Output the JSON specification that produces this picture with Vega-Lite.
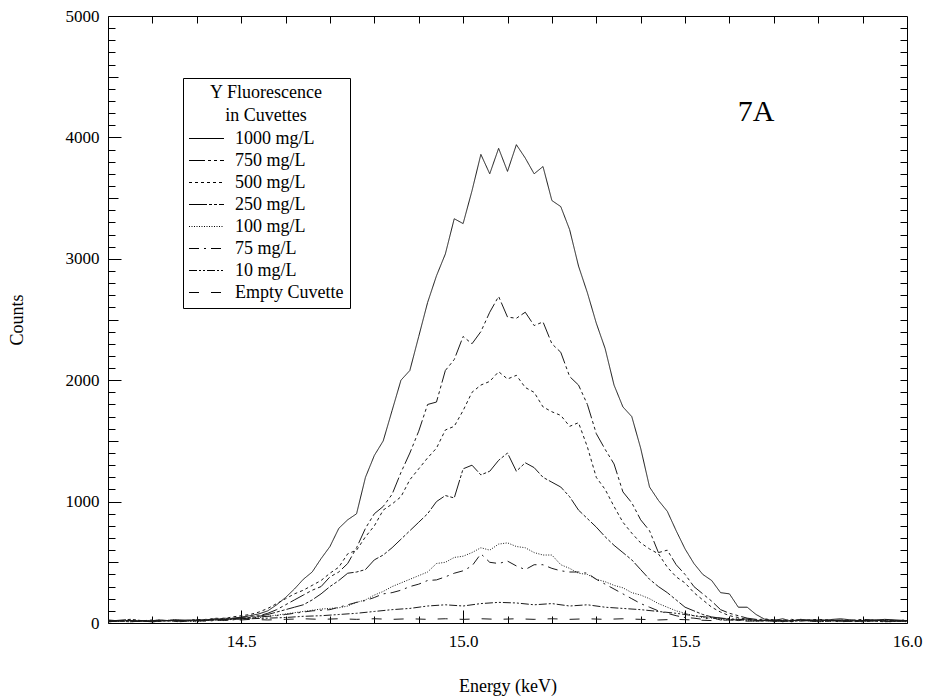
{
"$schema":"https://vega.github.io/schema/vega-lite/v6.json",
"width":799,"height":607,
"autosize":{"type":"none"},
"padding":{"left":108,"top":16,"right":18,"bottom":75},
"background":"white",
"config":{"view":{"stroke":"black","strokeWidth":1},"font":"Liberation Serif","axis":{"labelFont":"Liberation Serif","titleFont":"Liberation Serif","tickColor":"black","domainColor":"black","labelColor":"black","titleColor":"black","grid":false,"titleFontWeight":"normal","domain":false,"tickWidth":1,"ticks":true}},
"resolve":{"axis":{"x":"independent","y":"independent"}},
"layer":[
{"data":{"values":[
{"s":"1000","e":14.2,"c":15},{"s":"1000","e":14.25,"c":20},{"s":"1000","e":14.3,"c":10},{"s":"1000","e":14.35,"c":25},{"s":"1000","e":14.4,"c":20},{"s":"1000","e":14.42,"c":30},{"s":"1000","e":14.44,"c":25},{"s":"1000","e":14.46,"c":40},{"s":"1000","e":14.48,"c":35},{"s":"1000","e":14.5,"c":50},{"s":"1000","e":14.52,"c":60},{"s":"1000","e":14.54,"c":75},{"s":"1000","e":14.56,"c":100},{"s":"1000","e":14.58,"c":150},{"s":"1000","e":14.6,"c":210},{"s":"1000","e":14.62,"c":280},{"s":"1000","e":14.64,"c":360},{"s":"1000","e":14.66,"c":420},{"s":"1000","e":14.68,"c":530},{"s":"1000","e":14.7,"c":630},{"s":"1000","e":14.72,"c":780},{"s":"1000","e":14.74,"c":850},{"s":"1000","e":14.76,"c":900},{"s":"1000","e":14.78,"c":1200},{"s":"1000","e":14.8,"c":1380},{"s":"1000","e":14.82,"c":1500},{"s":"1000","e":14.84,"c":1750},{"s":"1000","e":14.86,"c":2000},{"s":"1000","e":14.88,"c":2080},{"s":"1000","e":14.9,"c":2360},{"s":"1000","e":14.92,"c":2640},{"s":"1000","e":14.94,"c":2860},{"s":"1000","e":14.96,"c":3040},{"s":"1000","e":14.98,"c":3330},{"s":"1000","e":15.0,"c":3290},{"s":"1000","e":15.02,"c":3560},{"s":"1000","e":15.04,"c":3860},{"s":"1000","e":15.06,"c":3700},{"s":"1000","e":15.08,"c":3910},{"s":"1000","e":15.1,"c":3720},{"s":"1000","e":15.12,"c":3940},{"s":"1000","e":15.14,"c":3830},{"s":"1000","e":15.16,"c":3700},{"s":"1000","e":15.18,"c":3760},{"s":"1000","e":15.2,"c":3480},{"s":"1000","e":15.22,"c":3430},{"s":"1000","e":15.24,"c":3240},{"s":"1000","e":15.26,"c":2940},{"s":"1000","e":15.28,"c":2720},{"s":"1000","e":15.3,"c":2470},{"s":"1000","e":15.32,"c":2260},{"s":"1000","e":15.34,"c":1960},{"s":"1000","e":15.36,"c":1780},{"s":"1000","e":15.38,"c":1700},{"s":"1000","e":15.4,"c":1440},{"s":"1000","e":15.42,"c":1120},{"s":"1000","e":15.44,"c":1010},{"s":"1000","e":15.46,"c":920},{"s":"1000","e":15.48,"c":760},{"s":"1000","e":15.5,"c":610},{"s":"1000","e":15.52,"c":490},{"s":"1000","e":15.54,"c":400},{"s":"1000","e":15.56,"c":350},{"s":"1000","e":15.58,"c":250},{"s":"1000","e":15.6,"c":240},{"s":"1000","e":15.62,"c":130},{"s":"1000","e":15.64,"c":130},{"s":"1000","e":15.66,"c":70},{"s":"1000","e":15.68,"c":30},{"s":"1000","e":15.7,"c":20},{"s":"1000","e":15.72,"c":35},{"s":"1000","e":15.74,"c":15},{"s":"1000","e":15.76,"c":30},{"s":"1000","e":15.8,"c":20},{"s":"1000","e":15.85,"c":35},{"s":"1000","e":15.9,"c":15},{"s":"1000","e":15.95,"c":30},{"s":"1000","e":16.0,"c":20},
{"s":"750","e":14.2,"c":10},{"s":"750","e":14.25,"c":25},{"s":"750","e":14.3,"c":15},{"s":"750","e":14.35,"c":20},{"s":"750","e":14.4,"c":25},{"s":"750","e":14.42,"c":20},{"s":"750","e":14.44,"c":35},{"s":"750","e":14.46,"c":30},{"s":"750","e":14.48,"c":40},{"s":"750","e":14.5,"c":45},{"s":"750","e":14.52,"c":55},{"s":"750","e":14.54,"c":60},{"s":"750","e":14.56,"c":80},{"s":"750","e":14.58,"c":110},{"s":"750","e":14.6,"c":150},{"s":"750","e":14.62,"c":190},{"s":"750","e":14.64,"c":230},{"s":"750","e":14.66,"c":270},{"s":"750","e":14.68,"c":300},{"s":"750","e":14.7,"c":380},{"s":"750","e":14.72,"c":420},{"s":"750","e":14.74,"c":490},{"s":"750","e":14.76,"c":620},{"s":"750","e":14.78,"c":780},{"s":"750","e":14.8,"c":900},{"s":"750","e":14.82,"c":960},{"s":"750","e":14.84,"c":1060},{"s":"750","e":14.86,"c":1240},{"s":"750","e":14.88,"c":1400},{"s":"750","e":14.9,"c":1580},{"s":"750","e":14.92,"c":1800},{"s":"750","e":14.94,"c":1820},{"s":"750","e":14.96,"c":2080},{"s":"750","e":14.98,"c":2170},{"s":"750","e":15.0,"c":2360},{"s":"750","e":15.02,"c":2300},{"s":"750","e":15.04,"c":2400},{"s":"750","e":15.06,"c":2560},{"s":"750","e":15.08,"c":2690},{"s":"750","e":15.1,"c":2520},{"s":"750","e":15.12,"c":2510},{"s":"750","e":15.14,"c":2560},{"s":"750","e":15.16,"c":2450},{"s":"750","e":15.18,"c":2480},{"s":"750","e":15.2,"c":2300},{"s":"750","e":15.22,"c":2230},{"s":"750","e":15.24,"c":2030},{"s":"750","e":15.26,"c":1960},{"s":"750","e":15.28,"c":1800},{"s":"750","e":15.3,"c":1560},{"s":"750","e":15.32,"c":1430},{"s":"750","e":15.34,"c":1310},{"s":"750","e":15.36,"c":1080},{"s":"750","e":15.38,"c":990},{"s":"750","e":15.4,"c":850},{"s":"750","e":15.42,"c":760},{"s":"750","e":15.44,"c":580},{"s":"750","e":15.46,"c":600},{"s":"750","e":15.48,"c":480},{"s":"750","e":15.5,"c":400},{"s":"750","e":15.52,"c":300},{"s":"750","e":15.54,"c":240},{"s":"750","e":15.56,"c":180},{"s":"750","e":15.58,"c":110},{"s":"750","e":15.6,"c":80},{"s":"750","e":15.62,"c":60},{"s":"750","e":15.64,"c":40},{"s":"750","e":15.66,"c":30},{"s":"750","e":15.68,"c":20},{"s":"750","e":15.7,"c":25},{"s":"750","e":15.72,"c":15},{"s":"750","e":15.74,"c":30},{"s":"750","e":15.76,"c":20},{"s":"750","e":15.8,"c":25},{"s":"750","e":15.85,"c":15},{"s":"750","e":15.9,"c":30},{"s":"750","e":15.95,"c":20},{"s":"750","e":16.0,"c":15},
{"s":"500","e":14.2,"c":20},{"s":"500","e":14.25,"c":10},{"s":"500","e":14.3,"c":25},{"s":"500","e":14.35,"c":15},{"s":"500","e":14.4,"c":30},{"s":"500","e":14.42,"c":25},{"s":"500","e":14.44,"c":40},{"s":"500","e":14.46,"c":35},{"s":"500","e":14.48,"c":50},{"s":"500","e":14.5,"c":60},{"s":"500","e":14.52,"c":70},{"s":"500","e":14.54,"c":90},{"s":"500","e":14.56,"c":120},{"s":"500","e":14.58,"c":160},{"s":"500","e":14.6,"c":200},{"s":"500","e":14.62,"c":240},{"s":"500","e":14.64,"c":270},{"s":"500","e":14.66,"c":310},{"s":"500","e":14.68,"c":350},{"s":"500","e":14.7,"c":410},{"s":"500","e":14.72,"c":460},{"s":"500","e":14.74,"c":570},{"s":"500","e":14.76,"c":600},{"s":"500","e":14.78,"c":710},{"s":"500","e":14.8,"c":800},{"s":"500","e":14.82,"c":930},{"s":"500","e":14.84,"c":980},{"s":"500","e":14.86,"c":1040},{"s":"500","e":14.88,"c":1180},{"s":"500","e":14.9,"c":1270},{"s":"500","e":14.92,"c":1360},{"s":"500","e":14.94,"c":1440},{"s":"500","e":14.96,"c":1590},{"s":"500","e":14.98,"c":1620},{"s":"500","e":15.0,"c":1750},{"s":"500","e":15.02,"c":1900},{"s":"500","e":15.04,"c":1960},{"s":"500","e":15.06,"c":1990},{"s":"500","e":15.08,"c":2070},{"s":"500","e":15.1,"c":2010},{"s":"500","e":15.12,"c":2040},{"s":"500","e":15.14,"c":1940},{"s":"500","e":15.16,"c":1900},{"s":"500","e":15.18,"c":1780},{"s":"500","e":15.2,"c":1740},{"s":"500","e":15.22,"c":1710},{"s":"500","e":15.24,"c":1620},{"s":"500","e":15.26,"c":1650},{"s":"500","e":15.28,"c":1450},{"s":"500","e":15.3,"c":1200},{"s":"500","e":15.32,"c":1100},{"s":"500","e":15.34,"c":960},{"s":"500","e":15.36,"c":830},{"s":"500","e":15.38,"c":740},{"s":"500","e":15.4,"c":660},{"s":"500","e":15.42,"c":610},{"s":"500","e":15.44,"c":570},{"s":"500","e":15.46,"c":460},{"s":"500","e":15.48,"c":380},{"s":"500","e":15.5,"c":330},{"s":"500","e":15.52,"c":250},{"s":"500","e":15.54,"c":190},{"s":"500","e":15.56,"c":130},{"s":"500","e":15.58,"c":90},{"s":"500","e":15.6,"c":60},{"s":"500","e":15.62,"c":45},{"s":"500","e":15.64,"c":30},{"s":"500","e":15.66,"c":25},{"s":"500","e":15.68,"c":35},{"s":"500","e":15.7,"c":20},{"s":"500","e":15.72,"c":25},{"s":"500","e":15.74,"c":15},{"s":"500","e":15.76,"c":20},{"s":"500","e":15.8,"c":30},{"s":"500","e":15.85,"c":20},{"s":"500","e":15.9,"c":10},{"s":"500","e":15.95,"c":25},{"s":"500","e":16.0,"c":15},
{"s":"250","e":14.2,"c":15},{"s":"250","e":14.25,"c":30},{"s":"250","e":14.3,"c":10},{"s":"250","e":14.35,"c":25},{"s":"250","e":14.4,"c":15},{"s":"250","e":14.42,"c":20},{"s":"250","e":14.44,"c":30},{"s":"250","e":14.46,"c":25},{"s":"250","e":14.48,"c":35},{"s":"250","e":14.5,"c":40},{"s":"250","e":14.52,"c":45},{"s":"250","e":14.54,"c":55},{"s":"250","e":14.56,"c":70},{"s":"250","e":14.58,"c":90},{"s":"250","e":14.6,"c":110},{"s":"250","e":14.62,"c":130},{"s":"250","e":14.64,"c":150},{"s":"250","e":14.66,"c":190},{"s":"250","e":14.68,"c":240},{"s":"250","e":14.7,"c":300},{"s":"250","e":14.72,"c":350},{"s":"250","e":14.74,"c":410},{"s":"250","e":14.76,"c":420},{"s":"250","e":14.78,"c":440},{"s":"250","e":14.8,"c":520},{"s":"250","e":14.82,"c":560},{"s":"250","e":14.84,"c":620},{"s":"250","e":14.86,"c":690},{"s":"250","e":14.88,"c":760},{"s":"250","e":14.9,"c":830},{"s":"250","e":14.92,"c":900},{"s":"250","e":14.94,"c":1000},{"s":"250","e":14.96,"c":1050},{"s":"250","e":14.98,"c":1030},{"s":"250","e":15.0,"c":1270},{"s":"250","e":15.02,"c":1300},{"s":"250","e":15.04,"c":1220},{"s":"250","e":15.06,"c":1250},{"s":"250","e":15.08,"c":1340},{"s":"250","e":15.1,"c":1400},{"s":"250","e":15.12,"c":1250},{"s":"250","e":15.14,"c":1320},{"s":"250","e":15.16,"c":1280},{"s":"250","e":15.18,"c":1200},{"s":"250","e":15.2,"c":1160},{"s":"250","e":15.22,"c":1120},{"s":"250","e":15.24,"c":1040},{"s":"250","e":15.26,"c":930},{"s":"250","e":15.28,"c":860},{"s":"250","e":15.3,"c":790},{"s":"250","e":15.32,"c":710},{"s":"250","e":15.34,"c":640},{"s":"250","e":15.36,"c":580},{"s":"250","e":15.38,"c":520},{"s":"250","e":15.4,"c":440},{"s":"250","e":15.42,"c":360},{"s":"250","e":15.44,"c":300},{"s":"250","e":15.46,"c":250},{"s":"250","e":15.48,"c":190},{"s":"250","e":15.5,"c":130},{"s":"250","e":15.52,"c":100},{"s":"250","e":15.54,"c":70},{"s":"250","e":15.56,"c":50},{"s":"250","e":15.58,"c":40},{"s":"250","e":15.6,"c":30},{"s":"250","e":15.62,"c":25},{"s":"250","e":15.64,"c":35},{"s":"250","e":15.66,"c":20},{"s":"250","e":15.68,"c":15},{"s":"250","e":15.7,"c":25},{"s":"250","e":15.72,"c":20},{"s":"250","e":15.74,"c":10},{"s":"250","e":15.76,"c":25},{"s":"250","e":15.8,"c":15},{"s":"250","e":15.85,"c":25},{"s":"250","e":15.9,"c":20},{"s":"250","e":15.95,"c":10},{"s":"250","e":16.0,"c":20},
{"s":"100","e":14.2,"c":10},{"s":"100","e":14.25,"c":20},{"s":"100","e":14.3,"c":15},{"s":"100","e":14.35,"c":25},{"s":"100","e":14.4,"c":10},{"s":"100","e":14.42,"c":20},{"s":"100","e":14.44,"c":25},{"s":"100","e":14.46,"c":20},{"s":"100","e":14.48,"c":30},{"s":"100","e":14.5,"c":35},{"s":"100","e":14.52,"c":40},{"s":"100","e":14.54,"c":45},{"s":"100","e":14.56,"c":55},{"s":"100","e":14.58,"c":65},{"s":"100","e":14.6,"c":75},{"s":"100","e":14.62,"c":85},{"s":"100","e":14.64,"c":95},{"s":"100","e":14.66,"c":105},{"s":"100","e":14.68,"c":115},{"s":"100","e":14.7,"c":120},{"s":"100","e":14.72,"c":125},{"s":"100","e":14.74,"c":140},{"s":"100","e":14.76,"c":170},{"s":"100","e":14.78,"c":190},{"s":"100","e":14.8,"c":230},{"s":"100","e":14.82,"c":260},{"s":"100","e":14.84,"c":300},{"s":"100","e":14.86,"c":330},{"s":"100","e":14.88,"c":360},{"s":"100","e":14.9,"c":390},{"s":"100","e":14.92,"c":420},{"s":"100","e":14.94,"c":490},{"s":"100","e":14.96,"c":500},{"s":"100","e":14.98,"c":540},{"s":"100","e":15.0,"c":550},{"s":"100","e":15.02,"c":580},{"s":"100","e":15.04,"c":620},{"s":"100","e":15.06,"c":600},{"s":"100","e":15.08,"c":650},{"s":"100","e":15.1,"c":660},{"s":"100","e":15.12,"c":630},{"s":"100","e":15.14,"c":620},{"s":"100","e":15.16,"c":580},{"s":"100","e":15.18,"c":560},{"s":"100","e":15.2,"c":560},{"s":"100","e":15.22,"c":480},{"s":"100","e":15.24,"c":450},{"s":"100","e":15.26,"c":410},{"s":"100","e":15.28,"c":400},{"s":"100","e":15.3,"c":360},{"s":"100","e":15.32,"c":340},{"s":"100","e":15.34,"c":310},{"s":"100","e":15.36,"c":290},{"s":"100","e":15.38,"c":250},{"s":"100","e":15.4,"c":230},{"s":"100","e":15.42,"c":200},{"s":"100","e":15.44,"c":160},{"s":"100","e":15.46,"c":130},{"s":"100","e":15.48,"c":100},{"s":"100","e":15.5,"c":80},{"s":"100","e":15.52,"c":60},{"s":"100","e":15.54,"c":45},{"s":"100","e":15.56,"c":40},{"s":"100","e":15.58,"c":30},{"s":"100","e":15.6,"c":25},{"s":"100","e":15.62,"c":35},{"s":"100","e":15.64,"c":20},{"s":"100","e":15.66,"c":15},{"s":"100","e":15.68,"c":25},{"s":"100","e":15.7,"c":10},{"s":"100","e":15.72,"c":20},{"s":"100","e":15.74,"c":15},{"s":"100","e":15.76,"c":25},{"s":"100","e":15.8,"c":10},{"s":"100","e":15.85,"c":20},{"s":"100","e":15.9,"c":15},{"s":"100","e":15.95,"c":25},{"s":"100","e":16.0,"c":10},
{"s":"75","e":14.2,"c":25},{"s":"75","e":14.25,"c":10},{"s":"75","e":14.3,"c":20},{"s":"75","e":14.35,"c":15},{"s":"75","e":14.4,"c":25},{"s":"75","e":14.42,"c":15},{"s":"75","e":14.44,"c":20},{"s":"75","e":14.46,"c":30},{"s":"75","e":14.48,"c":25},{"s":"75","e":14.5,"c":35},{"s":"75","e":14.52,"c":40},{"s":"75","e":14.54,"c":50},{"s":"75","e":14.56,"c":55},{"s":"75","e":14.58,"c":60},{"s":"75","e":14.6,"c":70},{"s":"75","e":14.62,"c":80},{"s":"75","e":14.64,"c":90},{"s":"75","e":14.66,"c":100},{"s":"75","e":14.68,"c":105},{"s":"75","e":14.7,"c":110},{"s":"75","e":14.72,"c":130},{"s":"75","e":14.74,"c":150},{"s":"75","e":14.76,"c":170},{"s":"75","e":14.78,"c":185},{"s":"75","e":14.8,"c":210},{"s":"75","e":14.82,"c":240},{"s":"75","e":14.84,"c":250},{"s":"75","e":14.86,"c":270},{"s":"75","e":14.88,"c":300},{"s":"75","e":14.9,"c":320},{"s":"75","e":14.92,"c":350},{"s":"75","e":14.94,"c":355},{"s":"75","e":14.96,"c":380},{"s":"75","e":14.98,"c":410},{"s":"75","e":15.0,"c":430},{"s":"75","e":15.02,"c":470},{"s":"75","e":15.04,"c":570},{"s":"75","e":15.06,"c":500},{"s":"75","e":15.08,"c":490},{"s":"75","e":15.1,"c":510},{"s":"75","e":15.12,"c":470},{"s":"75","e":15.14,"c":440},{"s":"75","e":15.16,"c":480},{"s":"75","e":15.18,"c":480},{"s":"75","e":15.2,"c":450},{"s":"75","e":15.22,"c":430},{"s":"75","e":15.24,"c":420},{"s":"75","e":15.26,"c":420},{"s":"75","e":15.28,"c":410},{"s":"75","e":15.3,"c":360},{"s":"75","e":15.32,"c":320},{"s":"75","e":15.34,"c":280},{"s":"75","e":15.36,"c":240},{"s":"75","e":15.38,"c":200},{"s":"75","e":15.4,"c":160},{"s":"75","e":15.42,"c":130},{"s":"75","e":15.44,"c":100},{"s":"75","e":15.46,"c":80},{"s":"75","e":15.48,"c":60},{"s":"75","e":15.5,"c":45},{"s":"75","e":15.52,"c":40},{"s":"75","e":15.54,"c":30},{"s":"75","e":15.56,"c":45},{"s":"75","e":15.58,"c":25},{"s":"75","e":15.6,"c":35},{"s":"75","e":15.62,"c":20},{"s":"75","e":15.64,"c":30},{"s":"75","e":15.66,"c":15},{"s":"75","e":15.68,"c":20},{"s":"75","e":15.7,"c":30},{"s":"75","e":15.72,"c":10},{"s":"75","e":15.74,"c":25},{"s":"75","e":15.76,"c":15},{"s":"75","e":15.8,"c":25},{"s":"75","e":15.85,"c":10},{"s":"75","e":15.9,"c":20},{"s":"75","e":15.95,"c":15},{"s":"75","e":16.0,"c":25},
{"s":"10","e":14.2,"c":10},{"s":"10","e":14.24,"c":20},{"s":"10","e":14.28,"c":15},{"s":"10","e":14.32,"c":25},{"s":"10","e":14.36,"c":10},{"s":"10","e":14.4,"c":20},{"s":"10","e":14.44,"c":25},{"s":"10","e":14.48,"c":30},{"s":"10","e":14.52,"c":35},{"s":"10","e":14.56,"c":40},{"s":"10","e":14.6,"c":45},{"s":"10","e":14.64,"c":55},{"s":"10","e":14.68,"c":60},{"s":"10","e":14.72,"c":70},{"s":"10","e":14.76,"c":80},{"s":"10","e":14.8,"c":95},{"s":"10","e":14.84,"c":110},{"s":"10","e":14.88,"c":120},{"s":"10","e":14.92,"c":140},{"s":"10","e":14.96,"c":150},{"s":"10","e":15.0,"c":140},{"s":"10","e":15.04,"c":160},{"s":"10","e":15.08,"c":170},{"s":"10","e":15.12,"c":165},{"s":"10","e":15.16,"c":150},{"s":"10","e":15.2,"c":160},{"s":"10","e":15.24,"c":140},{"s":"10","e":15.28,"c":150},{"s":"10","e":15.32,"c":130},{"s":"10","e":15.36,"c":120},{"s":"10","e":15.4,"c":110},{"s":"10","e":15.44,"c":95},{"s":"10","e":15.48,"c":80},{"s":"10","e":15.52,"c":60},{"s":"10","e":15.56,"c":45},{"s":"10","e":15.6,"c":35},{"s":"10","e":15.64,"c":25},{"s":"10","e":15.68,"c":20},{"s":"10","e":15.72,"c":15},{"s":"10","e":15.76,"c":25},{"s":"10","e":15.8,"c":10},{"s":"10","e":15.84,"c":20},{"s":"10","e":15.88,"c":15},{"s":"10","e":15.92,"c":25},{"s":"10","e":15.96,"c":10},{"s":"10","e":16.0,"c":20},
{"s":"0","e":14.2,"c":15},{"s":"0","e":14.24,"c":20},{"s":"0","e":14.28,"c":10},{"s":"0","e":14.32,"c":25},{"s":"0","e":14.36,"c":15},{"s":"0","e":14.4,"c":20},{"s":"0","e":14.44,"c":25},{"s":"0","e":14.48,"c":20},{"s":"0","e":14.52,"c":30},{"s":"0","e":14.56,"c":25},{"s":"0","e":14.6,"c":30},{"s":"0","e":14.64,"c":35},{"s":"0","e":14.68,"c":30},{"s":"0","e":14.72,"c":35},{"s":"0","e":14.76,"c":30},{"s":"0","e":14.8,"c":35},{"s":"0","e":14.84,"c":30},{"s":"0","e":14.88,"c":35},{"s":"0","e":14.92,"c":30},{"s":"0","e":14.96,"c":35},{"s":"0","e":15.0,"c":30},{"s":"0","e":15.04,"c":35},{"s":"0","e":15.08,"c":30},{"s":"0","e":15.12,"c":35},{"s":"0","e":15.16,"c":30},{"s":"0","e":15.2,"c":35},{"s":"0","e":15.24,"c":30},{"s":"0","e":15.28,"c":35},{"s":"0","e":15.32,"c":30},{"s":"0","e":15.36,"c":35},{"s":"0","e":15.4,"c":30},{"s":"0","e":15.44,"c":25},{"s":"0","e":15.48,"c":30},{"s":"0","e":15.52,"c":25},{"s":"0","e":15.56,"c":20},{"s":"0","e":15.6,"c":25},{"s":"0","e":15.64,"c":15},{"s":"0","e":15.68,"c":20},{"s":"0","e":15.72,"c":10},{"s":"0","e":15.76,"c":25},{"s":"0","e":15.8,"c":15},{"s":"0","e":15.84,"c":20},{"s":"0","e":15.88,"c":10},{"s":"0","e":15.92,"c":25},{"s":"0","e":15.96,"c":15},{"s":"0","e":16.0,"c":20}
]},
"mark":{"type":"line","stroke":"#1a1a1a","strokeWidth":1,"clip":true},
"encoding":{
"x":{"field":"e","type":"quantitative","scale":{"domain":[14.2,16.0],"nice":false,"zero":false},
 "axis":{"title":"Energy (keV)","values":[14.5,15.0,15.5,16.0],"format":".1f","offset":-13,"tickSize":13,
  "labelPadding":10,"labelFontSize":17,"titleFontSize":18,"titlePadding":28,"labelFlush":false,"labelOverlap":false}},
"y":{"field":"c","type":"quantitative","scale":{"domain":[0,5000],"nice":false},
 "axis":{"title":"Counts","values":[0,1000,2000,3000,4000,5000],"format":"d","offset":-13,"tickSize":13,
  "labelPadding":9,"labelFontSize":17,"titleFontSize":18,"titlePadding":39,"labelFlush":false,"labelOverlap":false}},
"strokeDash":{"field":"s","type":"nominal",
 "scale":{"domain":["1000","750","500","250","100","75","10","0"],
  "range":[[1,0],[16,3,3,3,3,3],[3,3],[18,2,3,2,3,2],[1,1.5],[10,5,2,5],[8,2,2,2,2,2],[10,12]]},
 "legend":{"orient":"none","legendX":75,"legendY":62,"title":["Y Fluorescence","in Cuvettes"],
  "titleAnchor":"middle","titleAlign":"center","titleFontSize":18,"titleFontWeight":"normal","titleFont":"Liberation Serif","titleColor":"black","titleLineHeight":23,"titlePadding":4,
  "labelFont":"Liberation Serif","labelFontSize":18,"labelColor":"black","labelOffset":19,
  "labelExpr":"datum.label == '0' ? 'Empty Cuvette' : datum.label + ' mg/L'",
  "symbolType":"M-2,0H2","symbolSize":306,"symbolOffset":8,"symbolStrokeWidth":1,"symbolStrokeColor":"black",
  "strokeColor":"black","fillColor":"white","padding":6,"rowPadding":3}}
}},
{"data":{"values":[{"e":15.66,"c":4210}]},
"mark":{"type":"text","text":"7A","fontSize":30,"font":"Liberation Serif","color":"black","baseline":"middle","align":"center"},
"encoding":{
"x":{"field":"e","type":"quantitative","scale":{"domain":[14.2,16.0],"nice":false,"zero":false},
 "axis":{"orient":"top","title":null,"labels":false,"offset":-7,"tickSize":7,"values":[14.3,14.4,14.5,14.6,14.7,14.8,14.9,15.0,15.1,15.2,15.3,15.4,15.5,15.6,15.7,15.8,15.9]}},
"y":{"field":"c","type":"quantitative","scale":{"domain":[0,5000],"nice":false},
 "axis":{"orient":"right","title":null,"labels":false,"offset":-7,"tickSize":7,"values":[100,200,300,400,500,600,700,800,900,1000,1100,1200,1300,1400,1500,1600,1700,1800,1900,2000,2100,2200,2300,2400,2500,2600,2700,2800,2900,3000,3100,3200,3300,3400,3500,3600,3700,3800,3900,4000,4100,4200,4300,4400,4500,4600,4700,4800,4900]}}
}},
{"data":{"values":[{"e":15.66,"c":4210}]},
"mark":{"type":"point","opacity":0},
"encoding":{
"x":{"field":"e","type":"quantitative","scale":{"domain":[14.2,16.0],"nice":false,"zero":false},
 "axis":{"orient":"bottom","title":null,"labels":false,"offset":-7,"tickSize":7,"values":[14.3,14.4,14.6,14.7,14.8,14.9,15.1,15.2,15.3,15.4,15.6,15.7,15.8,15.9]}},
"y":{"field":"c","type":"quantitative","scale":{"domain":[0,5000],"nice":false},
 "axis":{"orient":"left","title":null,"labels":false,"offset":-7,"tickSize":7,"values":[100,200,300,400,600,700,800,900,1100,1200,1300,1400,1600,1700,1800,1900,2100,2200,2300,2400,2600,2700,2800,2900,3100,3200,3300,3400,3600,3700,3800,3900,4100,4200,4300,4400,4600,4700,4800,4900]}}
}},
{"data":{"values":[{"e":15.66,"c":4210}]},
"mark":{"type":"point","opacity":0},
"encoding":{
"x":{"field":"e","type":"quantitative","scale":{"domain":[14.2,16.0],"nice":false,"zero":false},"axis":null},
"y":{"field":"c","type":"quantitative","scale":{"domain":[0,5000],"nice":false},
 "axis":{"orient":"left","title":null,"labels":false,"offset":-10,"tickSize":10,"values":[500,1500,2500,3500,4500]}}
}}
]
}
